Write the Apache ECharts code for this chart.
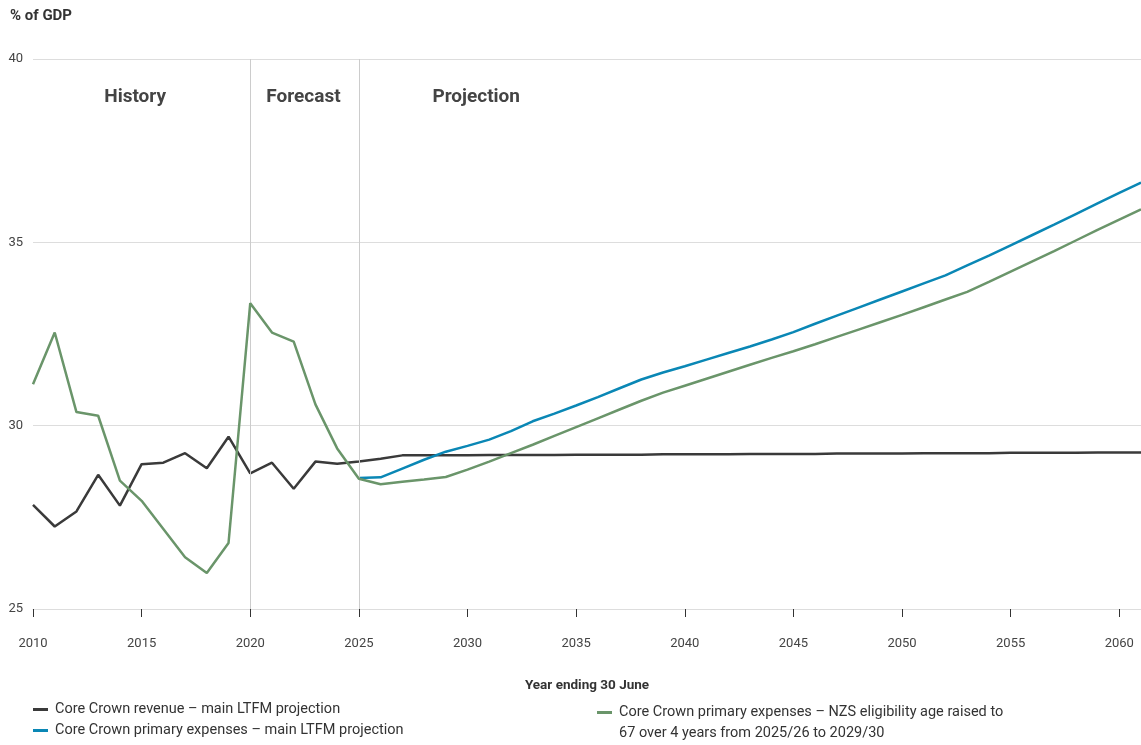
<!DOCTYPE html>
<html>
<head>
<meta charset="utf-8">
<script src="https://cdn.jsdelivr.net/npm/echarts@6/dist/echarts.min.js"></script>
<style>
html,body{margin:0;padding:0;background:#fff;}
#chart{width:1141px;height:745px;}
</style>
</head>
<body>
<div id="chart"></div>
<script>
// ---- data ----
const years = [];
for (let y = 2010; y <= 2061; y++) years.push(y);

const revenue = [
  27.84, 27.25, 27.66, 28.66, 27.82, 28.95, 28.99, 29.25, 28.84, 29.70,
  28.70, 28.99, 28.28, 29.02, 28.96, 29.02, 29.10, 29.19, 29.19, 29.19,
  29.19, 29.20, 29.20, 29.20, 29.20, 29.21, 29.21, 29.21, 29.21, 29.22,
  29.22, 29.22, 29.22, 29.23, 29.23, 29.23, 29.23, 29.24, 29.24, 29.24,
  29.24, 29.25, 29.25, 29.25, 29.25, 29.26, 29.26, 29.26, 29.26, 29.27,
  29.27, 29.27
];

const expensesMain = [
  null, null, null, null, null, null, null, null, null, null,
  null, null, null, null, null, 28.57, 28.59, 28.83, 29.07, 29.29,
  29.45, 29.62, 29.85, 30.12, 30.33, 30.55, 30.78, 31.02, 31.26, 31.45,
  31.62, 31.80, 31.98, 32.16, 32.35, 32.55, 32.78, 33.00, 33.22, 33.44,
  33.66, 33.88, 34.10, 34.37, 34.64, 34.92, 35.20, 35.48, 35.77, 36.06,
  36.35, 36.63
];

const expensesNZS = [
  31.13, 32.54, 30.37, 30.27, 28.50, 27.95, 27.18, 26.41, 25.98, 26.80,
  33.34, 32.54, 32.29, 30.58, 29.38, 28.55, 28.40, 28.47, 28.53, 28.60,
  28.80, 29.02, 29.25, 29.48, 29.72, 29.96, 30.20, 30.44, 30.68, 30.90,
  31.09, 31.28, 31.47, 31.66, 31.85, 32.03, 32.22, 32.42, 32.62, 32.82,
  33.02, 33.23, 33.44, 33.65, 33.92, 34.20, 34.48, 34.76, 35.05, 35.34,
  35.62, 35.90
];

const seriesNames = [
  'Core Crown revenue – main LTFM projection',
  'Core Crown primary expenses – main LTFM projection',
  'Core Crown primary expenses – NZS eligibility age raised to'
];
const nzsSecondLine = '67 over 4 years from 2025/26 to 2029/30';

const periodDividers = [2020, 2025];
const periodLabels = [
  { name: 'History', x: 2014.7, y: 38.95 },
  { name: 'Forecast', x: 2022.45, y: 38.95 },
  { name: 'Projection', x: 2030.4, y: 38.95 }
];

const colors = { revenue: '#3a3a3a', main: '#0a87b5', nzs: '#6a956a' };
const FONT = 'Roboto, "Open Sans", sans-serif';

function pairs(arr) {
  return years.map((y, i) => [y, arr[i]]).filter(p => p[1] !== null);
}

const legendText = { fontSize: 14.5, color: '#333', fontFamily: FONT, padding: [0, 0, 0, 2] };
function legendAt(name, left, top) {
  return {
    orient: 'horizontal', left: left, top: top, padding: 0,
    itemWidth: 15, itemHeight: 3, itemGap: 0, icon: 'rect',
    data: [name],
    textStyle: legendText
  };
}

const chart = echarts.init(document.getElementById('chart'), null, { renderer: 'canvas' });

chart.setOption({
  animation: false,
  textStyle: { fontFamily: FONT },
  grid: { left: 33, right: 0, top: 59, bottom: 136 },
  title: {
    text: '% of GDP', left: 10, top: 9, padding: 0,
    textStyle: { fontSize: 15, fontWeight: 'bold', color: '#333', fontFamily: FONT }
  },
  xAxis: {
    type: 'value', min: 2010, max: 2061, interval: 5,
    name: 'Year ending 30 June', nameLocation: 'middle', nameGap: 70,
    nameTextStyle: { fontSize: 13.5, fontWeight: 'bold', color: '#333', fontFamily: FONT },
    axisLine: { show: true, lineStyle: { color: '#dddddd', width: 1 } },
    axisTick: { show: true, length: 8, lineStyle: { color: '#333', width: 1 } },
    axisLabel: {
      color: '#444', fontSize: 13, margin: 28, showMaxLabel: false,
      formatter: v => (v % 5 === 0 ? String(v) : '')
    },
    splitLine: { show: false }
  },
  yAxis: {
    type: 'value', min: 25, max: 40, interval: 5,
    axisLine: { show: false }, axisTick: { show: false },
    axisLabel: { color: '#444', fontSize: 13, margin: 10 },
    splitLine: { show: true, lineStyle: { color: '#dddddd', width: 1 } }
  },
  legend: [
    legendAt(seriesNames[0], 33, 702),
    legendAt(seriesNames[1], 33, 723),
    legendAt(seriesNames[2], 597, 705)
  ],
  graphic: [
    {
      type: 'text', left: 619, top: 726,
      style: { text: nzsSecondLine, fontSize: 14.5, fill: '#333', fontFamily: FONT }
    }
  ],
  series: [
    {
      name: seriesNames[0], type: 'line', data: pairs(revenue),
      showSymbol: false, symbol: 'none',
      lineStyle: { color: colors.revenue, width: 2.5 },
      itemStyle: { color: colors.revenue },
      z: 3,
      markLine: {
        silent: true, symbol: 'none', label: { show: false },
        lineStyle: { color: '#cccccc', width: 1, type: 'solid' },
        data: periodDividers.map(v => ({ xAxis: v }))
      },
      markPoint: {
        silent: true, symbol: 'rect', symbolSize: 0,
        label: {
          show: true, position: 'inside', formatter: '{b}',
          fontSize: 19, fontWeight: 'bold', color: '#444', fontFamily: FONT
        },
        data: periodLabels.map(p => ({ name: p.name, coord: [p.x, p.y] }))
      }
    },
    {
      name: seriesNames[1], type: 'line', data: pairs(expensesMain),
      showSymbol: false, symbol: 'none',
      lineStyle: { color: colors.main, width: 2.5 },
      itemStyle: { color: colors.main },
      z: 4
    },
    {
      name: seriesNames[2], type: 'line', data: pairs(expensesNZS),
      showSymbol: false, symbol: 'none',
      lineStyle: { color: colors.nzs, width: 2.5 },
      itemStyle: { color: colors.nzs },
      z: 5
    }
  ]
});
</script>
</body>
</html>
